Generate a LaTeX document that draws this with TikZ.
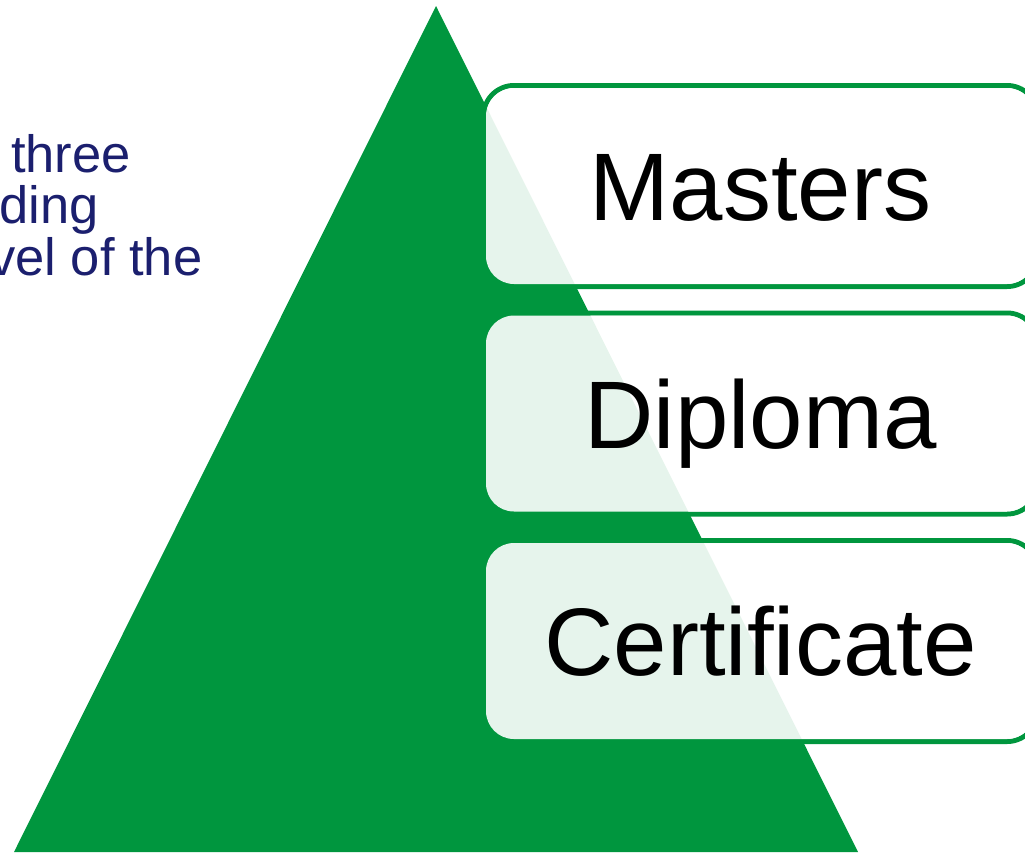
\documentclass[tikz,border=0pt]{standalone}
\usepackage{fontspec}
\setmainfont{Liberation Sans}
\definecolor{pgreen}{RGB}{0,150,62}
\definecolor{navy}{RGB}{27,31,110}
\begin{document}
\begin{tikzpicture}[x=1pt,y=-1pt,
  frame/.style={draw=pgreen, line width=5pt, rounded corners=30.5pt,
    minimum width=554pt, minimum height=201pt, inner sep=0pt},
  card/.style={fill=white, fill opacity=0.9, text opacity=1, rounded corners=28pt,
    minimum width=549pt, minimum height=196pt, inner sep=0pt,
    font=\fontsize{96}{110}\selectfont, text height=69pt, text depth=0pt},
  lefttext/.style={text=navy, inner sep=0pt, anchor=base west,
    font=\fontsize{52.5}{60}\selectfont}]
\useasboundingbox (0,0) rectangle (1025,852);
\clip (0,0) rectangle (1025,852);
% pyramid
\fill[pgreen] (436,6) -- (14,852) -- (858,852) -- cycle;
% left text fragments
\node[lefttext] (t1) at (11,172) {three};
\node[lefttext] (t2) at (-0.5,223.5) {ding};
\node[lefttext] (t3) at (-11,275) {vel of the};
% frames
\node[frame] (fm) at (760.5,186) {};
\node[frame] (fd) at (760.5,413.5) {};
\node[frame] (fc) at (760.5,641) {};
% cards
\node[card] (m) at (760.5,186) {Masters};
\node[card] (d) at (760.5,413.5) {Diploma};
\node[card] (c) at (760.5,641) {Certificate};
\end{tikzpicture}
\end{document}
